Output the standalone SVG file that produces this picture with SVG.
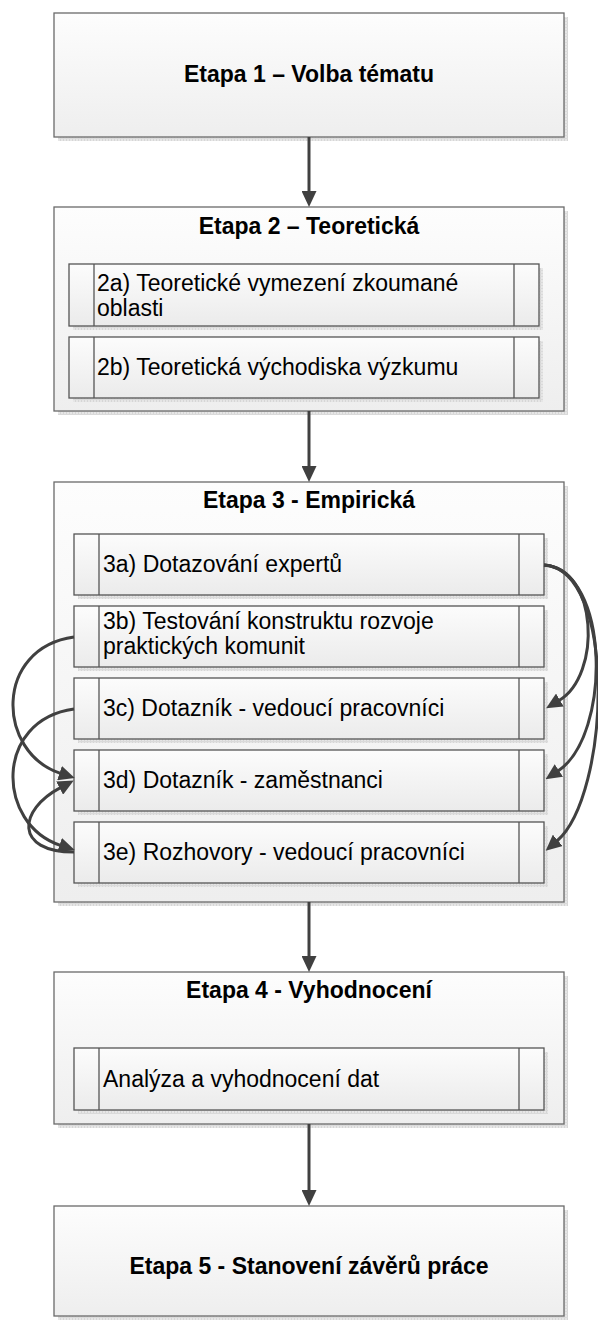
<svg xmlns="http://www.w3.org/2000/svg" width="598" height="1323" viewBox="0 0 598 1323">
  <defs>
    <linearGradient id="gOuter" x1="0" y1="0" x2="0" y2="1">
      <stop offset="0" stop-color="#fdfdfd"/>
      <stop offset="1" stop-color="#eeeeee"/>
    </linearGradient>
    <linearGradient id="gInner" x1="0" y1="0" x2="0" y2="1">
      <stop offset="0" stop-color="#fcfcfc"/>
      <stop offset="1" stop-color="#ebebeb"/>
    </linearGradient>
    <pattern id="shadowFill" width="3" height="3" patternUnits="userSpaceOnUse">
      <rect width="3" height="3" fill="#e6e6e6"/>
      <rect width="1" height="3" fill="#d6d6d6"/>
      <rect width="3" height="1" fill="#dadada"/>
    </pattern>
    <marker id="arrow" markerUnits="userSpaceOnUse" markerWidth="16" markerHeight="15" viewBox="0 0 16 15" refX="1" refY="7.5" orient="auto">
      <path d="M0,0 L16,7.5 L0,15 z" fill="#404040"/>
    </marker>
    <style>
      .shadow { fill: url(#shadowFill); }
      .outer { fill: url(#gOuter); stroke: #6a6a6a; stroke-width: 1.3; }
      .inner { fill: url(#gInner); stroke: #555555; stroke-width: 1.3; }
      .div { stroke: #555555; stroke-width: 1.3; }
      .title { font-family: "Liberation Sans", Arial, sans-serif; font-size: 23px; font-weight: bold; fill: #000; text-anchor: middle; }
      .label { font-family: "Liberation Sans", Arial, sans-serif; font-size: 23px; fill: #000; }
      .conn { fill: none; stroke: #404040; stroke-width: 3; marker-end: url(#arrow); }
    </style>
  </defs>

  <rect width="598" height="1323" fill="#ffffff"/>

  <!-- Stage 1 -->
  <g id="etapa1">
    <rect class="shadow" x="58" y="17" width="510" height="124"/>
    <rect class="outer" x="54" y="13" width="510" height="124"/>
    <text class="title" x="309" y="82">Etapa 1 – Volba tématu</text>
  </g>

  <!-- Stage 2 -->
  <g id="etapa2">
    <rect class="shadow" x="58" y="211" width="510" height="204"/>
    <rect class="outer" x="54" y="207" width="510" height="204"/>
    <text class="title" x="309" y="234">Etapa 2 – Teoretická</text>
  </g>
  <g id="n2a">
    <rect class="shadow" x="73" y="268" width="470" height="62"/>
    <rect class="inner" x="69" y="264" width="470" height="62"/>
    <line class="div" x1="94" y1="264" x2="94" y2="326"/>
    <line class="div" x1="514" y1="264" x2="514" y2="326"/>
    <text class="label" x="97" y="291">2a) Teoretické vymezení zkoumané</text>
    <text class="label" x="97" y="316">oblasti</text>
  </g>
  <g id="n2b">
    <rect class="shadow" x="73" y="341" width="470" height="61"/>
    <rect class="inner" x="69" y="337" width="470" height="61"/>
    <line class="div" x1="94" y1="337" x2="94" y2="398"/>
    <line class="div" x1="514" y1="337" x2="514" y2="398"/>
    <text class="label" x="97" y="375">2b) Teoretická východiska výzkumu</text>
  </g>

  <!-- Stage 3 -->
  <g id="etapa3">
    <rect class="shadow" x="58" y="486" width="510" height="420"/>
    <rect class="outer" x="54" y="482" width="510" height="420"/>
    <text class="title" x="309" y="508">Etapa 3 - Empirická</text>
  </g>
  <g id="n3a">
    <rect class="shadow" x="78" y="538" width="470" height="61"/>
    <rect class="inner" x="74" y="534" width="470" height="61"/>
    <line class="div" x1="99" y1="534" x2="99" y2="595"/>
    <line class="div" x1="519" y1="534" x2="519" y2="595"/>
    <text class="label" x="103" y="572">3a) Dotazování expertů</text>
  </g>
  <g id="n3b">
    <rect class="shadow" x="78" y="610" width="470" height="61"/>
    <rect class="inner" x="74" y="606" width="470" height="61"/>
    <line class="div" x1="99" y1="606" x2="99" y2="667"/>
    <line class="div" x1="519" y1="606" x2="519" y2="667"/>
    <text class="label" x="103" y="629">3b) Testování konstruktu rozvoje</text>
    <text class="label" x="103" y="654">praktických komunit</text>
  </g>
  <g id="n3c">
    <rect class="shadow" x="78" y="682" width="470" height="61"/>
    <rect class="inner" x="74" y="678" width="470" height="61"/>
    <line class="div" x1="99" y1="678" x2="99" y2="739"/>
    <line class="div" x1="519" y1="678" x2="519" y2="739"/>
    <text class="label" x="103" y="716">3c) Dotazník - vedoucí pracovníci</text>
  </g>
  <g id="n3d">
    <rect class="shadow" x="78" y="754" width="470" height="61"/>
    <rect class="inner" x="74" y="750" width="470" height="61"/>
    <line class="div" x1="99" y1="750" x2="99" y2="811"/>
    <line class="div" x1="519" y1="750" x2="519" y2="811"/>
    <text class="label" x="103" y="788">3d) Dotazník - zaměstnanci</text>
  </g>
  <g id="n3e">
    <rect class="shadow" x="78" y="826" width="470" height="61"/>
    <rect class="inner" x="74" y="822" width="470" height="61"/>
    <line class="div" x1="99" y1="822" x2="99" y2="883"/>
    <line class="div" x1="519" y1="822" x2="519" y2="883"/>
    <text class="label" x="103" y="860">3e) Rozhovory - vedoucí pracovníci</text>
  </g>

  <!-- Stage 4 -->
  <g id="etapa4">
    <rect class="shadow" x="58" y="976" width="510" height="152"/>
    <rect class="outer" x="54" y="972" width="510" height="152"/>
    <text class="title" x="309" y="998">Etapa 4 - Vyhodnocení</text>
  </g>
  <g id="n4a">
    <rect class="shadow" x="78" y="1052" width="470" height="62"/>
    <rect class="inner" x="74" y="1048" width="470" height="62"/>
    <line class="div" x1="99" y1="1048" x2="99" y2="1110"/>
    <line class="div" x1="519" y1="1048" x2="519" y2="1110"/>
    <text class="label" x="103" y="1087">Analýza a vyhodnocení dat</text>
  </g>

  <!-- Stage 5 -->
  <g id="etapa5">
    <rect class="shadow" x="58" y="1210" width="510" height="110"/>
    <rect class="outer" x="54" y="1206" width="510" height="110"/>
    <text class="title" x="309" y="1274">Etapa 5 - Stanovení závěrů práce</text>
  </g>

  <!-- Connectors -->
  <g id="connectors">
    <path class="conn" d="M309,137 V192"/>
    <path class="conn" d="M309,411 V467"/>
    <path class="conn" d="M309,902 V957"/>
    <path class="conn" d="M309,1124 V1191"/>

    <!-- 3a fans out to 3c, 3d, 3e on the right -->
    <path class="conn" d="M544,565 C598,568 602,675 559,700.5"/>
    <path class="conn" d="M544,565 C610,570 612,735 558,771"/>
    <path class="conn" d="M544,565 C618,570 610,795 557,841"/>

    <!-- left-hand loops -->
    <path class="conn" d="M74,637 C-6,648 -4,752 60.5,773.4"/>
    <path class="conn" d="M74,709 C-6,720 -4,824 60.5,845.4"/>
    <path class="conn" d="M74,852 C14,852 18,810 60.5,787.6"/>
  </g>
</svg>
